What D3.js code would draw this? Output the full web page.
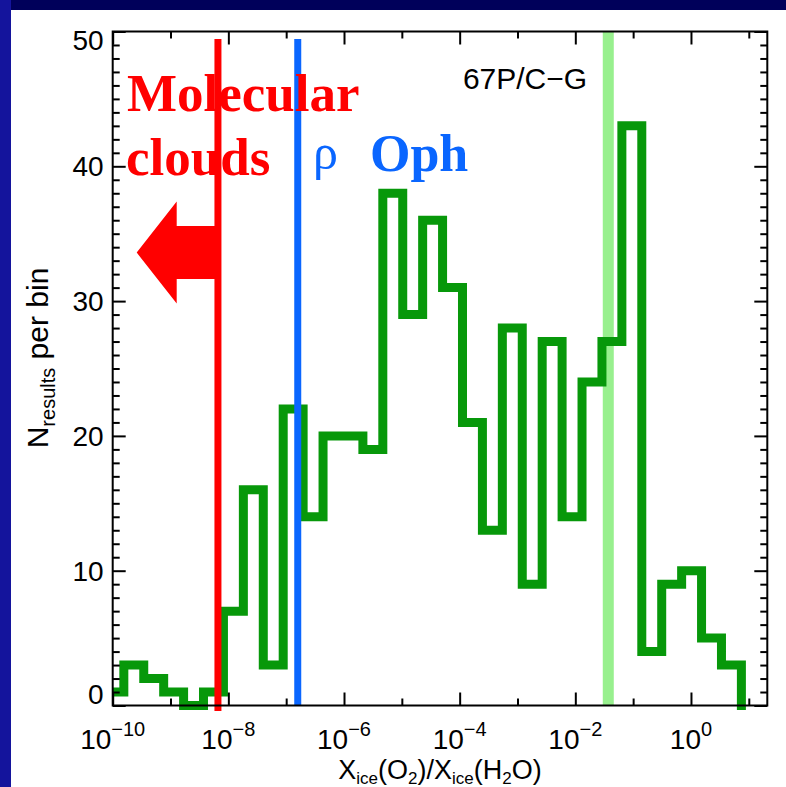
<!DOCTYPE html>
<html>
<head>
<meta charset="utf-8">
<script src="https://cdn.jsdelivr.net/npm/d3@7"></script>
<style>
  body { margin: 0; background: #00005a; }
  svg { display: block; }
</style>
</head>
<body>
<div id="chart"></div>
<script>
// histogram counts, bins of equal width in log10 space
const binStartLog = -10.152;
const binWidthLog = 0.3445;
const counts = [1, 3, 2, 1, 0, 1, 7, 16, 3, 22, 14, 20, 20, 19, 38, 29,
                36, 31, 21, 13, 28, 9, 27, 14, 24, 27, 43, 4, 9, 10, 5, 3];

// reference lines (O2/H2O ratio)
const molecularClouds = 10 ** -8.18;
const rhoOph = 10 ** -6.8;
const comet67P = 10 ** -1.43;

const xMajorExp = [-10, -8, -6, -4, -2, 0];
const xMinorExp = [-9, -7, -5, -3, -1, 1];
const yMajor = [0, 10, 20, 30, 40, 50];

const W = 786, H = 787;
const plot = {left: 112.7, right: 767.3, top: 31.5, bottom: 705.5};

const svg = d3.select("#chart").append("svg")
    .attr("width", W)
    .attr("height", H);

// background panel
svg.append("rect").attr("width", W).attr("height", H).attr("fill", "#00005a");
svg.append("rect").attr("width", 11).attr("height", H).attr("fill", "#14149c");
svg.append("rect").attr("x", 11).attr("y", 10).attr("width", W - 11).attr("height", H - 10).attr("fill", "#ffffff");

const x = d3.scaleLog().domain([1e-10, 10 ** 1.32]).range([plot.left, plot.right]);
const y = d3.scaleLinear().domain([0, 50]).range([plot.bottom, plot.top]);

svg.append("defs").append("clipPath").attr("id", "clipL")
    .append("rect")
    .attr("x", plot.left).attr("y", 0)
    .attr("width", W - plot.left).attr("height", H);

// comet line (light green, behind the histogram)
svg.append("line")
    .attr("x1", x(comet67P)).attr("x2", x(comet67P))
    .attr("y1", plot.top).attr("y2", plot.bottom)
    .attr("stroke", "#98f08e")
    .attr("stroke-width", 11);

// histogram as a step line
const pts = counts.map((c, i) => [Math.max(10 ** (binStartLog + i * binWidthLog), 1e-10), c]);
pts.push([10 ** (binStartLog + counts.length * binWidthLog), 0]);

const line = d3.line()
    .x(d => x(d[0]))
    .y(d => y(d[1]))
    .curve(d3.curveStepAfter);

svg.append("path")
    .datum(pts)
    .attr("clip-path", "url(#clipL)")
    .attr("d", line)
    .attr("fill", "none")
    .attr("stroke", "#07980a")
    .attr("stroke-width", 9)
    .attr("stroke-linecap", "square")
    .attr("stroke-linejoin", "miter");

// red molecular clouds line + arrow
const xr = x(molecularClouds);
svg.append("line")
    .attr("x1", xr).attr("x2", xr)
    .attr("y1", 39).attr("y2", 711)
    .attr("stroke", "#ff0000")
    .attr("stroke-width", 7);

const ay = y(33.6);
svg.append("path")
    .attr("d", `M${xr},${ay - 26.5} L176.7,${ay - 26.5} L176.7,${ay - 51} L136.7,${ay} L176.7,${ay + 51} L176.7,${ay + 26.5} L${xr},${ay + 26.5} Z`)
    .attr("fill", "#ff0000");

// blue rho Oph line
svg.append("line")
    .attr("x1", x(rhoOph)).attr("x2", x(rhoOph))
    .attr("y1", 39).attr("y2", plot.bottom)
    .attr("stroke", "#0a66ff")
    .attr("stroke-width", 7);

// axes: ticks pointing inward on all four sides
function xTicks(g, vals, len, orient) {
    const ax = (orient === "bottom" ? d3.axisBottom(x) : d3.axisTop(x))
        .tickValues(vals.map(e => 10 ** e))
        .tickSize(-len)
        .tickFormat("");
    g.call(ax);
    g.select(".domain").remove();
    g.selectAll(".tick line").attr("stroke", "#000").attr("stroke-width", 2);
}
function yTicks(g, vals, len, orient) {
    const ax = (orient === "left" ? d3.axisLeft(y) : d3.axisRight(y))
        .tickValues(vals)
        .tickSize(-len)
        .tickFormat("");
    g.call(ax);
    g.select(".domain").remove();
    g.selectAll(".tick line").attr("stroke", "#000").attr("stroke-width", 2);
}

const yMinor = d3.range(0, 51).filter(v => v % 10 !== 0);

svg.append("g").attr("transform", `translate(0,${plot.bottom})`).call(xTicks, xMajorExp, 13, "bottom");
svg.append("g").attr("transform", `translate(0,${plot.bottom})`).call(xTicks, xMinorExp, 7, "bottom");
svg.append("g").attr("transform", `translate(0,${plot.top})`).call(xTicks, xMajorExp, 13, "top");
svg.append("g").attr("transform", `translate(0,${plot.top})`).call(xTicks, xMinorExp, 7, "top");
svg.append("g").attr("transform", `translate(${plot.left},0)`).call(yTicks, yMajor, 13, "left");
svg.append("g").attr("transform", `translate(${plot.left},0)`).call(yTicks, yMinor, 7, "left");
svg.append("g").attr("transform", `translate(${plot.right},0)`).call(yTicks, yMajor, 13, "right");
svg.append("g").attr("transform", `translate(${plot.right},0)`).call(yTicks, yMinor, 7, "right");

// frame
svg.append("rect")
    .attr("x", plot.left).attr("y", plot.top)
    .attr("width", plot.right - plot.left)
    .attr("height", plot.bottom - plot.top)
    .attr("fill", "none")
    .attr("stroke", "#000")
    .attr("stroke-width", 2);

// tick labels
const labelFont = "'Liberation Sans', Arial, sans-serif";
svg.append("g").selectAll("text")
    .data(yMajor)
    .enter().append("text")
    .attr("x", plot.left - 9)
    .attr("y", d => y(d) + (d === 0 ? -2 : d === 50 ? 18 : 10))
    .attr("text-anchor", "end")
    .style("font-family", labelFont)
    .style("font-size", "28px")
    .text(d => d);

const xl = svg.append("g").selectAll("text")
    .data(xMajorExp)
    .enter().append("text")
    .attr("x", d => x(10 ** d))
    .attr("y", 749)
    .attr("text-anchor", "middle")
    .style("font-family", labelFont)
    .style("font-size", "28px");
xl.append("tspan").text("10");
xl.append("tspan")
    .attr("dy", -13)
    .style("font-size", "20px")
    .text(d => d < 0 ? "\u2212" + Math.abs(d) : d);

// axis titles
const xt = svg.append("text")
    .attr("x", 440)
    .attr("y", 779)
    .attr("text-anchor", "middle")
    .style("font-family", labelFont)
    .style("font-size", "27px");
const sub = (t, s) => {
    t.append("tspan").attr("dy", 5).style("font-size", "17px").text(s);
};
xt.append("tspan").text("X");
sub(xt, "ice");
xt.append("tspan").attr("dy", -5).text("(O");
sub(xt, "2");
xt.append("tspan").attr("dy", -5).text(")/X");
sub(xt, "ice");
xt.append("tspan").attr("dy", -5).text("(H");
sub(xt, "2");
xt.append("tspan").attr("dy", -5).text("O)");

const yt = svg.append("text")
    .attr("transform", "translate(48,358) rotate(-90)")
    .attr("text-anchor", "middle")
    .style("font-family", labelFont)
    .style("font-size", "30px");
yt.append("tspan").text("N");
yt.append("tspan").attr("dy", 7).style("font-size", "20px").text("results");
yt.append("tspan").attr("dy", -7).text(" per bin");

// annotations
svg.append("text")
    .attr("x", 525).attr("y", 89)
    .attr("text-anchor", "middle")
    .style("font-family", labelFont)
    .style("font-size", "30px")
    .text("67P/C\u2212G");

const serif = "'Liberation Serif', 'Times New Roman', serif";
svg.append("text")
    .attr("x", 127).attr("y", 111)
    .style("font-family", serif)
    .style("font-weight", "bold")
    .style("font-size", "53px")
    .attr("fill", "#ff0000")
    .text("Molecular");
svg.append("text")
    .attr("x", 126).attr("y", 175)
    .style("font-family", serif)
    .style("font-weight", "bold")
    .style("font-size", "53px")
    .attr("fill", "#ff0000")
    .text("clouds");
svg.append("text")
    .attr("x", 313).attr("y", 169)
    .style("font-family", serif)
    .style("font-size", "50px")
    .attr("fill", "#0a66ff")
    .text("\u03c1");
svg.append("text")
    .attr("x", 370).attr("y", 171)
    .style("font-family", serif)
    .style("font-weight", "bold")
    .style("font-size", "52px")
    .attr("fill", "#0a66ff")
    .text("Oph");
</script>
</body>
</html>
